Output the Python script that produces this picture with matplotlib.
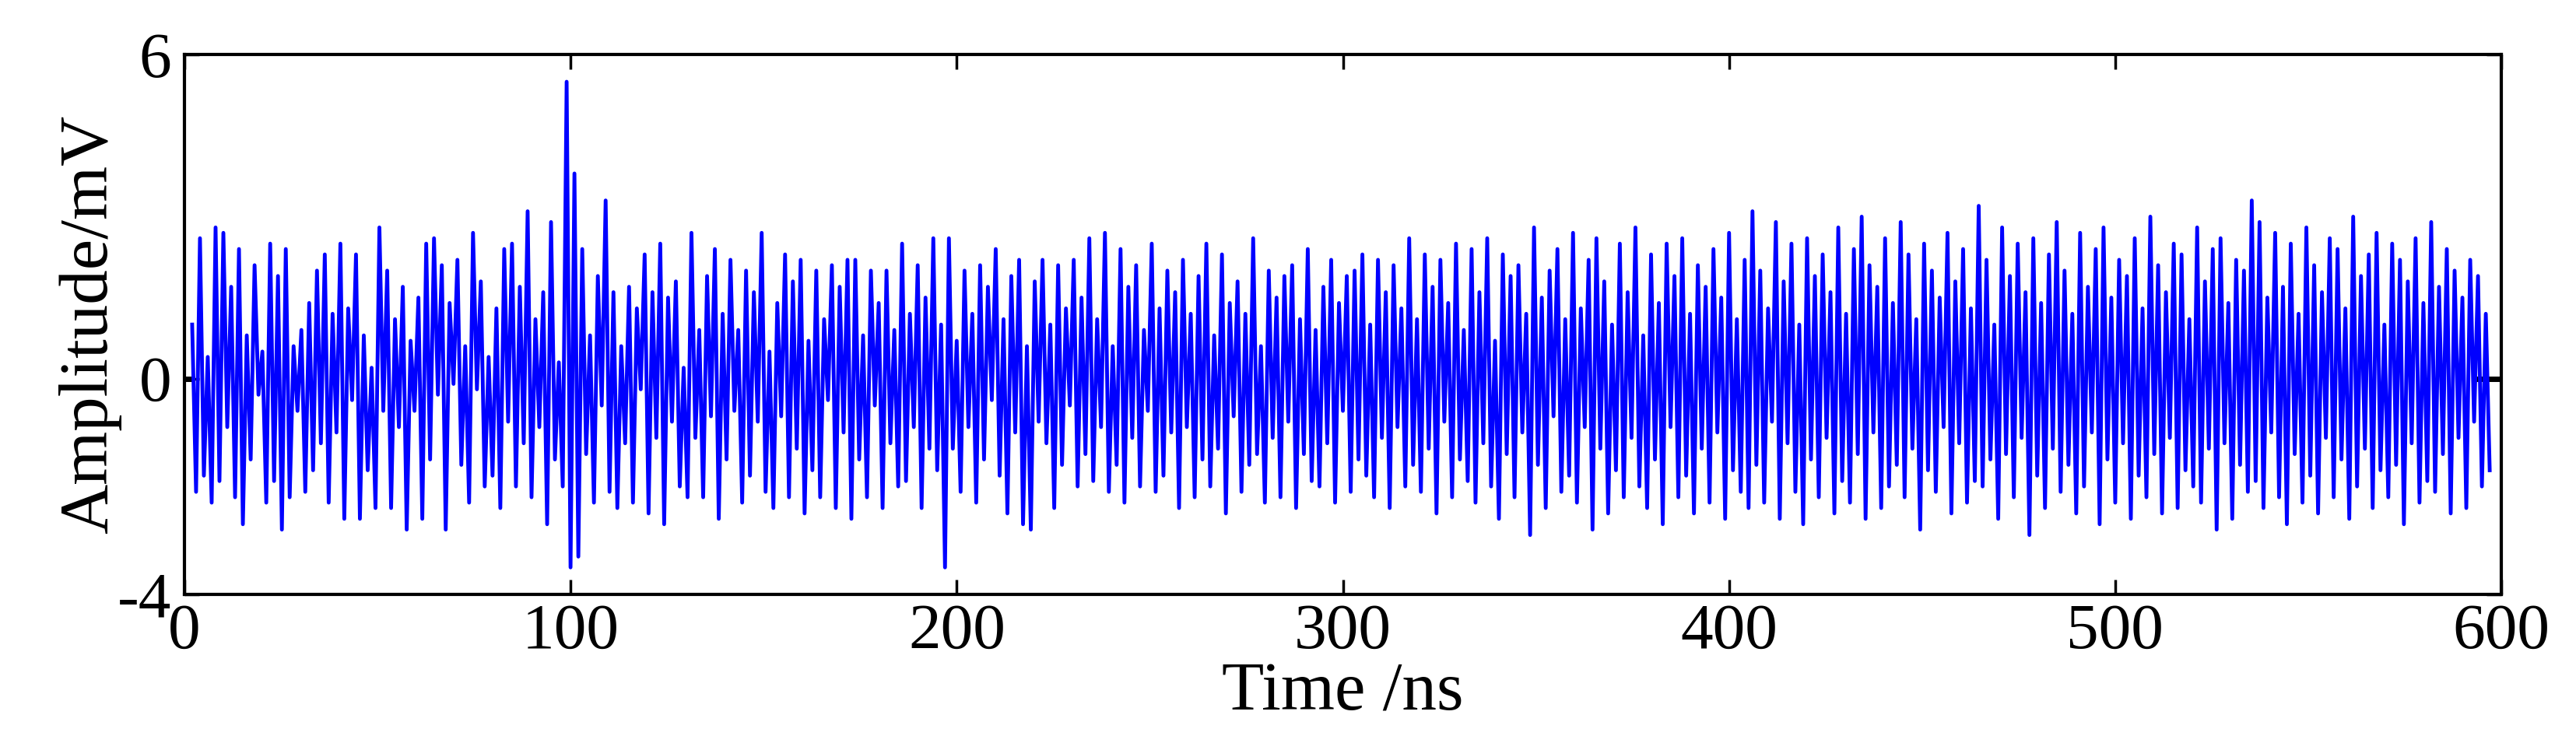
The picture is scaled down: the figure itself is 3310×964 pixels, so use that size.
import matplotlib.pyplot as plt
import numpy as np

plt.rcParams['font.family'] = ['Liberation Serif', 'DejaVu Serif']
plt.rcParams['axes.unicode_minus'] = False

# amplitude samples (mV), starting at t = 2 ns
amplitude = [
    1.0, -2.1, 2.6, -1.8, 0.4, -2.3, 2.8, -1.9, 2.7, -0.9,
    1.7, -2.2, 2.4, -2.7, 0.8, -1.5, 2.1, -0.3, 0.5, -2.3,
    2.5, -1.9, 1.9, -2.8, 2.4, -2.2, 0.6, -0.6, 0.9, -2.1,
    1.4, -1.7, 2.0, -1.2, 2.3, -2.3, 1.2, -1.0, 2.5, -2.6,
    1.3, -0.4, 2.3, -2.6, 0.8, -1.7, 0.2, -2.4, 2.8, -0.6,
    2.0, -2.4, 1.1, -0.9, 1.7, -2.8, 0.7, -0.6, 1.5, -2.6,
    2.5, -1.5, 2.6, -0.3, 2.1, -2.8, 1.4, -0.1, 2.2, -1.6,
    0.6, -2.3, 2.7, -0.2, 1.8, -2.0, 0.4, -1.8, 1.3, -2.4,
    2.4, -0.8, 2.5, -2.0, 1.7, -1.2, 3.1, -2.2, 1.1, -0.9,
    1.6, -2.7, 2.9, -1.5, 0.3, -2.0, 5.5, -3.5, 3.8, -3.3,
    2.4, -1.4, 0.8, -2.3, 1.9, -0.5, 3.3, -2.1, 1.6, -2.4,
    0.6, -1.2, 1.7, -2.3, 1.3, -0.2, 2.3, -2.5, 1.6, -1.1,
    2.5, -2.7, 1.5, -0.8, 1.8, -2.0, 0.2, -2.2, 2.7, -1.1,
    0.9, -2.2, 1.9, -0.7, 2.4, -2.6, 1.2, -1.5, 2.2, -0.6,
    0.9, -2.3, 2.0, -1.8, 1.6, -0.8, 2.7, -2.1, 0.5, -2.4,
    1.4, -0.7, 2.3, -2.2, 1.8, -1.3, 2.2, -2.5, 0.7, -1.7,
    2.0, -2.2, 1.1, -0.4, 2.1, -2.4, 1.7, -1.0, 2.2, -2.6,
    2.2, -1.5, 0.8, -2.2, 2.0, -0.5, 1.4, -2.4, 2.0, -1.2,
    0.9, -2.0, 2.5, -1.9, 1.2, -0.9, 2.1, -2.4, 1.5, -1.3,
    2.6, -1.7, 1.0, -3.5, 2.6, -1.3, 0.7, -2.1, 2.0, -0.9,
    1.2, -2.3, 2.1, -1.5, 1.7, -0.4, 2.4, -1.8, 1.1, -2.5,
    1.9, -1.0, 2.2, -2.7, 0.6, -2.8, 1.8, -0.8, 2.2, -1.2,
    1.0, -2.4, 2.1, -1.6, 1.3, -0.5, 2.2, -2.0, 1.5, -1.4,
    2.6, -1.9, 1.1, -0.9, 2.7, -2.1, 0.6, -1.6, 2.4, -2.3,
    1.7, -1.1, 2.1, -2.0, 0.9, -0.6, 2.5, -2.1, 1.3, -1.8,
    2.0, -1.0, 1.6, -2.4, 2.2, -0.9, 1.2, -2.2, 1.9, -1.5,
    2.5, -2.0, 0.8, -1.3, 2.3, -2.5, 1.4, -0.7, 1.8, -2.1,
    1.2, -1.6, 2.6, -1.4, 0.6, -2.3, 2.0, -1.1, 1.5, -2.2,
    1.9, -0.8, 2.1, -2.4, 1.1, -1.4, 2.4, -1.9, 0.9, -2.0,
    1.7, -1.2, 2.2, -2.3, 1.4, -0.6, 1.9, -2.1, 2.0, -1.5,
    2.3, -1.8, 1.0, -2.2, 2.2, -1.1, 1.6, -2.4, 2.1, -0.9,
    1.3, -2.0, 2.6, -1.6, 1.1, -2.1, 2.3, -1.3, 1.7, -2.5,
    2.2, -0.8, 1.4, -2.2, 2.5, -1.5, 0.9, -1.9, 2.4, -2.3,
    1.6, -1.2, 2.6, -2.0, 0.7, -2.6, 2.3, -1.4, 1.9, -2.2,
    2.1, -1.0, 1.2, -2.9, 2.8, -1.6, 1.5, -2.4, 2.0, -0.7,
    2.4, -2.1, 1.1, -1.8, 2.7, -2.3, 1.3, -0.9, 2.2, -2.8,
    2.6, -1.3, 1.8, -2.5, 1.0, -1.7, 2.5, -2.2, 1.6, -1.1,
    2.8, -2.0, 0.8, -2.4, 2.3, -1.5, 1.4, -2.7, 2.5, -0.9,
    1.9, -2.2, 2.6, -1.8, 1.2, -2.5, 2.1, -1.3, 1.7, -2.3,
    2.4, -1.0, 1.5, -2.6, 2.7, -1.7, 1.1, -2.1, 2.2, -2.4,
    3.1, -1.6, 2.0, -2.3, 1.3, -0.8, 2.9, -2.6, 1.8, -1.2,
    2.5, -2.1, 1.0, -2.7, 2.6, -1.5, 1.9, -2.2, 2.3, -1.1,
    1.6, -2.5, 2.8, -1.9, 1.2, -2.3, 2.4, -1.4, 3.0, -2.6,
    2.1, -1.0, 1.7, -2.4, 2.6, -2.0, 1.4, -1.6, 2.9, -2.2,
    2.3, -1.3, 1.1, -2.8, 2.5, -1.7, 2.0, -2.1, 1.5, -0.9,
    2.7, -2.5, 1.8, -1.2, 2.4, -2.3, 1.3, -1.9, 3.2, -2.0,
    2.2, -1.5, 1.0, -2.6, 2.8, -1.4, 1.9, -2.2, 2.5, -1.1,
    1.6, -2.9, 2.6, -1.8, 1.4, -2.4, 2.3, -1.3, 2.9, -2.1,
    2.0, -1.6, 1.2, -2.5, 2.7, -2.0, 1.7, -1.0, 2.4, -2.7,
    2.8, -1.5, 1.5, -2.3, 2.2, -1.2, 1.9, -2.6, 2.6, -1.8,
    1.3, -2.2, 3.0, -1.4, 2.1, -2.5, 1.6, -1.1, 2.5, -2.4,
    2.3, -1.7, 1.1, -2.0, 2.8, -2.3, 1.8, -1.3, 2.4, -2.8,
    2.6, -1.2, 1.4, -2.6, 2.2, -1.6, 2.0, -2.1, 3.3, -1.9,
    2.9, -2.4, 1.5, -1.0, 2.7, -2.2, 1.7, -2.7, 2.5, -1.4,
    1.2, -2.3, 2.8, -1.8, 2.1, -2.5, 1.6, -1.1, 2.6, -2.2,
    2.4, -1.5, 1.3, -2.6, 3.0, -2.0, 1.9, -1.3, 2.3, -2.4,
    2.7, -1.7, 1.0, -2.2, 2.5, -1.6, 2.2, -2.7, 1.8, -1.2,
    2.6, -2.3, 1.4, -1.9, 2.9, -2.1, 1.7, -1.4, 2.4, -2.5,
    2.0, -1.1, 1.5, -2.4, 2.2, -0.8, 1.9, -2.0, 1.2, -1.7,
]
t_start, t_end = 2, 597
zero_times_left = [0, 2]
zero_times_right = [593, 600]

time = np.linspace(t_start, t_end, len(amplitude))

fig = plt.figure(figsize=(33.1, 9.64), dpi=100)
ax = fig.add_axes([0.0716, 0.2075, 0.8994, 0.7195])
ax.plot(zero_times_left, [0, 0], color='black', lw=5)
ax.plot(zero_times_right, [0, 0], color='black', lw=5)
ax.plot(time, amplitude, color='#0000ff', lw=3.5)

ax.set_xlim(0, 600)
ax.set_ylim(-4, 6)
ax.set_xticks(range(0, 601, 100))
ax.set_yticks([-4, 0, 6])
ax.tick_params(direction='in', length=14, width=2.5, top=True, right=True,
               labelsize=60)
ax.tick_params(axis='x', pad=8)
ax.tick_params(axis='y', pad=12)
for s in ax.spines.values():
    s.set_linewidth(3)
ax.set_xlabel('Time /ns', fontsize=64, labelpad=0)
ax.set_ylabel('Amplitude/mV', fontsize=64, labelpad=-4)

fig.savefig('out.png', dpi=100)
